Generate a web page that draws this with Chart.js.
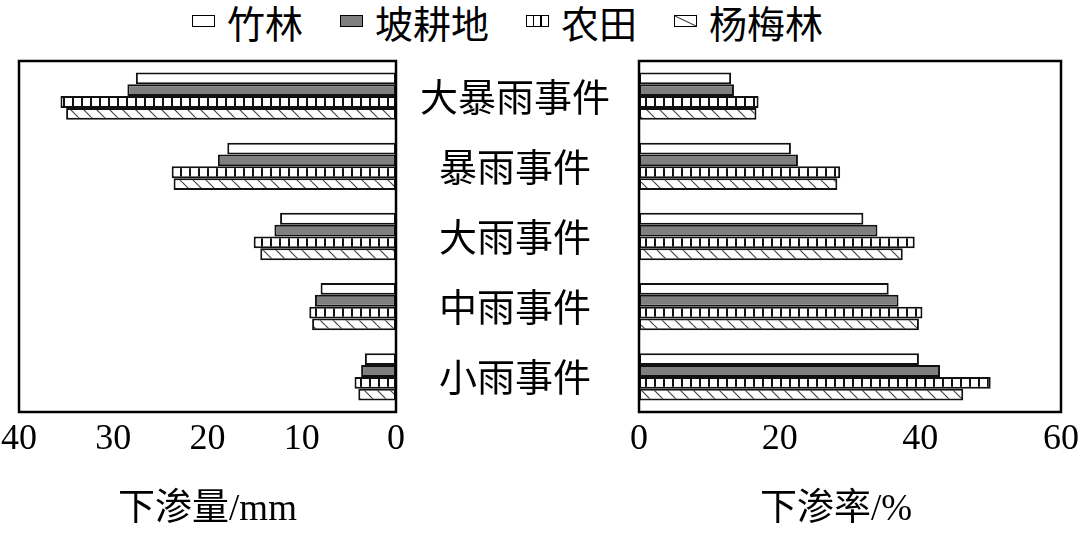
<!DOCTYPE html>
<html>
<head>
<meta charset="utf-8">
<script src="https://cdn.jsdelivr.net/npm/chart.js@4/dist/chart.umd.min.js"></script>
<style>
    html, body { margin: 0; padding: 0; background: #fff; }
    #wrap { position: relative; width: 1080px; height: 537px; overflow: hidden; }
    #leftChart { position: absolute; left: 0; top: 0; }
    #rightChart { position: absolute; left: 420px; top: 0; }
    #legend {
        position: absolute; left: 192px; top: 0; height: 42px;
        display: flex; align-items: center;
        font-family: "Noto Sans CJK SC", sans-serif; font-size: 38px; color: #000;
    }
    .item { display: flex; align-items: center; margin-right: 37px; }
    .sw { width: 21px; height: 10px; border: 1.5px solid #000; margin-right: 12px; background: #fff; }
    .sw.gray { background: #7f7f7f; }
    .sw.vline { background: repeating-linear-gradient(90deg, #fff 0 6px, #000 6px 7.5px); }
    .sw.diag { background: linear-gradient(to top right, #fff calc(50% - 1px), #333 50%, #fff calc(50% + 1px)); }
</style>
</head>
<body>
<div id="wrap">
    <div id="legend"></div>
    <canvas id="leftChart" width="420" height="537"></canvas>
    <canvas id="rightChart" width="690" height="537"></canvas>
</div>
<script>
// rain event classes, top to bottom
var categories = ['大暴雨事件', '暴雨事件', '大雨事件', '中雨事件', '小雨事件'];
var seriesNames = ['竹林', '坡耕地', '农田', '杨梅林'];

// 下渗量 (mm)
var amountBamboo = [27.6, 17.9, 12.3, 8.0, 3.3];
var amountSlope = [28.5, 18.9, 12.9, 8.6, 3.7];
var amountFarm = [35.6, 23.8, 15.1, 9.2, 4.4];
var amountBayberry = [35.0, 23.6, 14.4, 8.9, 4.0];

// 下渗率 (%)
var rateBamboo = [13.1, 21.6, 31.9, 35.5, 39.8];
var rateSlope = [13.5, 22.6, 33.9, 36.9, 42.8];
var rateFarm = [17.0, 28.6, 39.2, 40.3, 50.0];
var rateBayberry = [16.7, 28.2, 37.5, 39.8, 46.1];

var amountTicks = [0, 10, 20, 30, 40];
var rateTicks = [0, 20, 40, 60];

var CJK = '"Noto Sans CJK SC", sans-serif';
var SERIF = '"Liberation Serif", "Noto Sans CJK SC", serif';

function makeVLines() {
    var c = document.createElement('canvas');
    c.width = 9; c.height = 9;
    var g = c.getContext('2d');
    g.fillStyle = '#fff';
    g.fillRect(0, 0, 9, 9);
    g.fillStyle = '#111';
    g.fillRect(0, 0, 2, 9);
    return g.createPattern(c, 'repeat');
}

function makeDiag() {
    var s = 13;
    var c = document.createElement('canvas');
    c.width = s; c.height = s;
    var g = c.getContext('2d');
    g.fillStyle = '#fff';
    g.fillRect(0, 0, s, s);
    g.strokeStyle = '#444';
    g.lineWidth = 1.2;
    [-s, 0, s].forEach(function (o) {
        g.beginPath();
        g.moveTo(o, 0);
        g.lineTo(o + s, s);
        g.stroke();
    });
    return g.createPattern(c, 'repeat');
}

var fills = ['#fff', '#7f7f7f', makeVLines(), makeDiag()];
var swatchClass = ['', 'gray', 'vline', 'diag'];

// html legend shared by both panels
var legendEl = document.getElementById('legend');
seriesNames.forEach(function (name, i) {
    var item = document.createElement('div');
    item.className = 'item';
    var sw = document.createElement('span');
    sw.className = 'sw ' + swatchClass[i];
    var txt = document.createElement('span');
    txt.textContent = name;
    item.appendChild(sw);
    item.appendChild(txt);
    legendEl.appendChild(item);
});

function buildDatasets(values) {
    return values.map(function (arr, i) {
        return {
            label: seriesNames[i],
            data: arr,
            backgroundColor: fills[i],
            borderColor: '#111',
            borderWidth: 2,
            borderSkipped: false,
            categoryPercentage: 0.674,
            barPercentage: 1.0
        };
    });
}

// frame around each plot area
var framePlugin = {
    id: 'frame',
    afterDraw: function (chart) {
        var a = chart.chartArea;
        var ctx = chart.ctx;
        ctx.save();
        ctx.strokeStyle = '#000';
        ctx.lineWidth = 2.5;
        ctx.strokeRect(a.left, a.top, a.right - a.left, a.bottom - a.top);
        ctx.restore();
    }
};

function xAxis(max, step, reverse, title, tickList) {
    return {
        type: 'linear',
        min: 0,
        max: max,
        reverse: reverse,
        grid: { display: false, drawTicks: false },
        border: { display: false },
        afterBuildTicks: function (scale) {
            scale.ticks = tickList.map(function (v) { return { value: v }; });
        },
        afterFit: function (scale) { scale.height = 125; },
        ticks: {
            stepSize: step,
            padding: 6,
            color: '#000',
            font: { family: SERIF, size: 36 }
        },
        title: {
            display: true,
            text: title,
            color: '#000',
            font: { family: SERIF, size: 37 },
            padding: { top: 0, bottom: 5 }
        }
    };
}

var baseOptions = {
    indexAxis: 'y',
    responsive: false,
    animation: false,
    devicePixelRatio: 1,
    plugins: {
        legend: { display: false },
        tooltip: { enabled: false }
    }
};

new Chart(document.getElementById('leftChart'), {
    type: 'bar',
    data: {
        labels: categories,
        datasets: buildDatasets([amountBamboo, amountSlope, amountFarm, amountBayberry])
    },
    options: Object.assign({}, baseOptions, {
        layout: { padding: { left: 19, right: 24, top: 61, bottom: 0 } },
        scales: {
            x: xAxis(40, 10, true, '下渗量/mm', amountTicks),
            y: { display: false }
        }
    }),
    plugins: [framePlugin]
});

// canvas runs past the page edge so the "60" label is not squeezed
new Chart(document.getElementById('rightChart'), {
    type: 'bar',
    data: {
        labels: categories,
        datasets: buildDatasets([rateBamboo, rateSlope, rateFarm, rateBayberry])
    },
    options: Object.assign({}, baseOptions, {
        layout: { padding: { left: 0, right: 49, top: 61, bottom: 0 } },
        scales: {
            x: xAxis(60, 20, false, '下渗率/%   ', rateTicks),
            y: {
                position: 'left',
                grid: { display: false, drawTicks: false },
                border: { display: false },
                afterFit: function (scale) { scale.width = 219; },
                ticks: {
                    crossAlign: 'center',
                    padding: 29,
                    color: '#000',
                    font: { family: CJK, size: 38 }
                }
            }
        }
    }),
    plugins: [framePlugin]
});
</script>
</body>
</html>
